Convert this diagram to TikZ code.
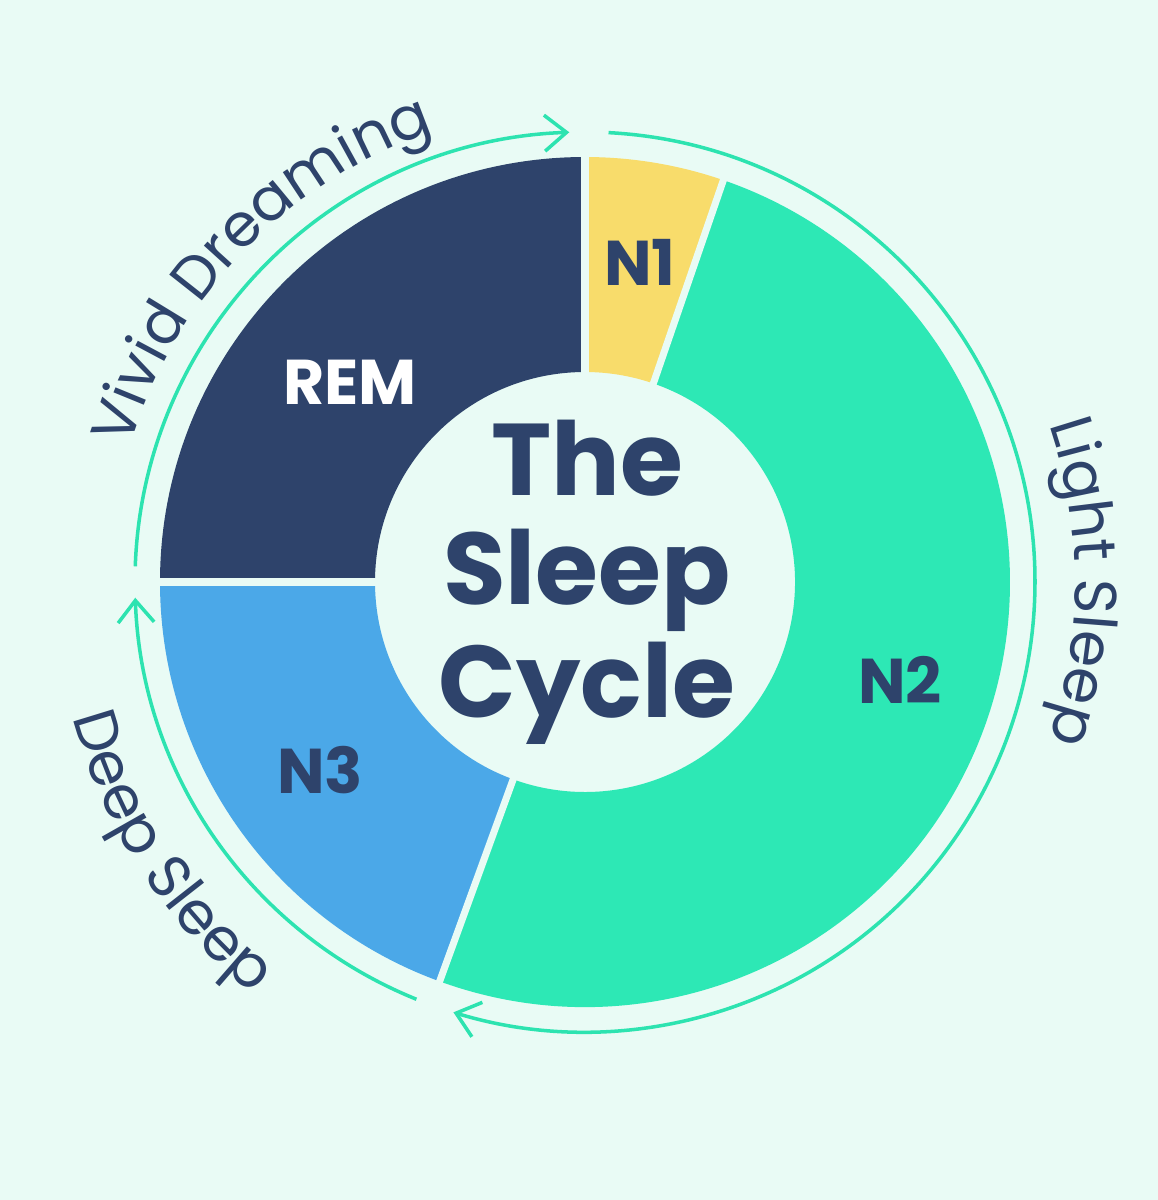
\documentclass[tikz,border=0pt]{standalone}
\usepackage{fontspec}
\setmainfont{Poppins}
\usetikzlibrary{arrows.meta,decorations.text}
\definecolor{bgmint}{HTML}{E9FBF5}
\definecolor{navy}{HTML}{2E436B}
\definecolor{nyellow}{HTML}{F8DC6B}
\definecolor{ngreen}{HTML}{2DE8B5}
\definecolor{nblue}{HTML}{4BA8E8}
\definecolor{arcgreen}{HTML}{2DE3B0}
\newcommand{\rout}{4.25}
\newcommand{\rin}{2.1}
\newcommand{\segment}[3]{\fill[#1] (#2:\rout) arc[start angle=#2, end angle=#3, radius=\rout] -- (#3:\rin) arc[start angle=#3, end angle=#2, radius=\rin] -- cycle;}
\tikzset{
  cyclearrow/.style={arcgreen, line width=1pt, -{Straight Barb[length=2.2mm,width=3.6mm]}},
  seglabel/.style={font=\fontsize{18}{18}\selectfont\bfseries},
  phasetext/.style={decorate, decoration={text along path, text align=center,
      text color=navy, text={|\fontsize{17}{17}\selectfont|#1}}}
}
\begin{document}
\begin{tikzpicture}
	\fill[bgmint] (-5.85,-6.18) rectangle (5.73,5.82);
	\useasboundingbox (-5.85,-6.18) rectangle (5.73,5.82);
	% donut segments
	\segment{nyellow}{71}{90}
	\segment{navy}{90}{180}
	\segment{nblue}{180}{250}
	\segment{ngreen}{-110}{71}
	\foreach \a in {71,90,180,250}
		\draw[bgmint, line width=2pt] (\a:\rin-0.1) -- (\a:\rout+0.1);
	% labels
	\node[seglabel, text=navy] (n1) at (0.55,3.2) {N1};
	\node[seglabel, text=white] (rem) at (-2.35,2.0) {REM};
	\node[seglabel, text=navy] (n2) at (3.15,-0.98) {N2};
	\node[seglabel, text=navy] (n3) at (-2.65,-1.88) {N3};
	\node[text=navy, align=center, font=\fontsize{29}{29}\selectfont\bfseries] (title) at (0.02,0) {The\\[2pt]Sleep\\[2pt]Cycle};
	% cycle arrows
	\draw[cyclearrow] (178:4.5) arc[start angle=178, end angle=92, radius=4.5];
	\draw[cyclearrow] (87:4.5) arc[start angle=87, end angle=-107, radius=4.5];
	\draw[cyclearrow] (248:4.5) arc[start angle=248, end angle=182, radius=4.5];
	% phase names
	\path[phasetext=Vivid Dreaming] (176:4.75) arc[start angle=176, end angle=96, radius=4.75];
	\path[phasetext=Light Sleep] (40:4.9) arc[start angle=40, end angle=-40, radius=4.9];
	\path[phasetext=Deep Sleep] (183:5.3) arc[start angle=183, end angle=243, radius=5.3];
\end{tikzpicture}
\end{document}
